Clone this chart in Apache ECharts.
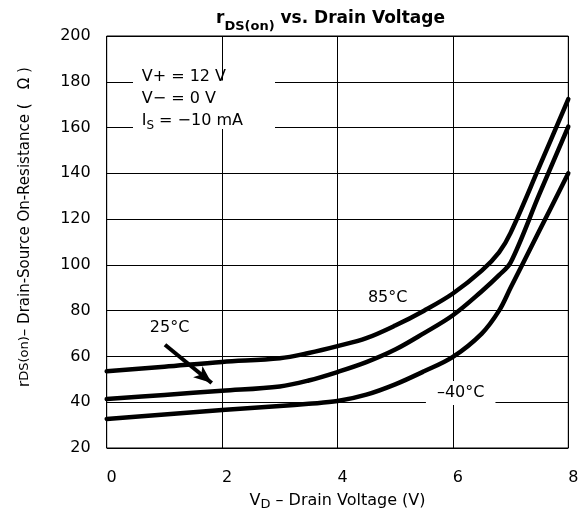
<!DOCTYPE html>
<html><head><meta charset="utf-8">
<script src="https://cdn.jsdelivr.net/npm/echarts@6/dist/echarts.min.js"></script>
<style>html,body{margin:0;padding:0;background:#fff}#c{width:588px;height:516px}</style>
</head><body><div id="c"></div>
<script>
// ---- data ----
const xTicks = [0, 2, 4, 6, 8];
const yTicks = [20, 40, 60, 80, 100, 120, 140, 160, 180, 200];

const vd85 = [0, 1, 2, 3, 3.5, 4, 4.5, 5, 5.5, 6, 6.5, 6.8, 7, 7.5, 8];
const r85  = [53.5, 55.5, 57.6, 59.2, 61.5, 64.5, 68, 73.5, 80, 87.5, 97.5, 105.5, 114, 143, 172.4];

const vd25 = [0, 1, 2, 3, 3.5, 4, 4.5, 5, 5.5, 6, 6.5, 6.8, 7, 7.5, 8];
const r25  = [41.4, 43.2, 45.0, 46.9, 49.5, 53.2, 57.5, 63, 70.2, 78, 88.5, 95.5, 101, 131, 160.4];

const vdM40 = [0, 1, 2, 3, 3.5, 4, 4.5, 5, 5.5, 6, 6.5, 6.8, 7, 7.5, 8];
const rM40  = [32.7, 34.6, 36.6, 38.3, 39.3, 40.5, 43.3, 47.8, 53.5, 59.8, 70, 80, 90, 115, 140];

const labelNames = ['85°C', '25°C', '–40°C'];
const labelPos = [[4.87, 85.7], [1.09, 72.4], [6.135, 44.0]];
const arrowFrom = [1.01, 65.1];
const arrowTo = [1.82, 48.4];

const condLines = ['V+ = 12 V', 'V− = 0 V'];

// ---- chart ----
const FF = 'DejaVu Sans';
const zip = (xs, ys) => xs.map((x, i) => [x, ys[i]]);
const chart = echarts.init(document.getElementById('c'), null, {renderer: 'canvas'});

const lineSeries = (name, xs, ys) => ({
  name, type: 'line', data: zip(xs, ys), smooth: 0.35,
  showSymbol: false, symbol: 'none',
  lineStyle: {color: '#000', width: 4.5, cap: 'round', join: 'round'},
  silent: true, z: 5
});

const s25 = lineSeries('25°C', vd25, r25);
s25.markLine = {
  silent: true, animation: false,
  symbol: ['none', 'arrow'], symbolSize: [11, 18],
  label: {show: false},
  lineStyle: {color: '#000', width: 4, type: 'solid'},
  data: [[{coord: arrowFrom}, {coord: arrowTo}]]
};

const option = {
  animation: false,
  backgroundColor: '#fff',
  textStyle: {fontFamily: FF},
  title: {
    text: '{r|r}{s|DS(on)}{t| vs. Drain Voltage}',
    left: 216, top: 5, padding: 0,
    textStyle: {
      rich: {
        r: {fontFamily: FF, fontWeight: 'bold', fontSize: 17, color: '#000', lineHeight: 28, verticalAlign: 'middle'},
        s: {fontFamily: FF, fontWeight: 'bold', fontSize: 13, color: '#000', lineHeight: 13, verticalAlign: 'bottom'},
        t: {fontFamily: FF, fontWeight: 'bold', fontSize: 17, color: '#000', lineHeight: 28, verticalAlign: 'middle'}
      }
    }
  },
  grid: {left: 106.7, right: 19.7, top: 36, bottom: 67.7, show: true, borderColor: '#000', borderWidth: 1},
  xAxis: {
    type: 'value', min: xTicks[0], max: xTicks[xTicks.length - 1], interval: 2,
    axisLine: {show: false}, axisTick: {show: false},
    splitLine: {show: true, lineStyle: {color: '#000', width: 1}},
    axisLabel: {fontFamily: FF, fontSize: 16, color: '#000', margin: 22, padding: [0, 0, 0, 10]},
    name: '{m|V}{s|D}{m| – Drain Voltage (V)}',
    nameLocation: 'middle', nameGap: 43,
    nameTextStyle: {
      rich: {
        m: {fontFamily: FF, fontSize: 16, color: '#000', lineHeight: 20, verticalAlign: 'middle'},
        s: {fontFamily: FF, fontSize: 13, color: '#000', lineHeight: 13, verticalAlign: 'bottom'}
      }
    }
  },
  yAxis: {
    type: 'value', min: yTicks[0], max: yTicks[yTicks.length - 1], interval: 20,
    axisLine: {show: false}, axisTick: {show: false},
    splitLine: {show: true, lineStyle: {color: '#000', width: 1}},
    axisLabel: {fontFamily: FF, fontSize: 16, color: '#000', margin: 16}
  },
  graphic: [
    {type: 'text', x: 25, y: 227, rotation: Math.PI / 2, z: 100,
      style: {
        text: '{m|r}{s|DS(on)}{m|– Drain-Source On-Resistance (   Ω )}',
        align: 'center', verticalAlign: 'middle', fill: '#000',
        fontFamily: FF, fontSize: 15,
        rich: {
          m: {fontFamily: FF, fontSize: 15, fill: '#000', color: '#000'},
          s: {fontFamily: FF, fontSize: 13, fill: '#000', color: '#000'}
        }
      }
    },
    {type: 'rect', z: 90, shape: {x: 133, y: 80.5, width: 142, height: 48.5}, style: {fill: '#fff'}},
    {type: 'text', x: 141.7, y: 77, z: 100,
      style: {text: condLines[0], fontFamily: FF, fontSize: 16, fill: '#000', verticalAlign: 'middle', align: 'left'}},
    {type: 'text', x: 141.7, y: 98.5, z: 100,
      style: {text: condLines[1], fontFamily: FF, fontSize: 16, fill: '#000', verticalAlign: 'middle', align: 'left'}},
    {type: 'text', x: 141.7, y: 120.5, z: 100,
      style: {
        text: '{m|I}{s|S}{m| = −10 mA}', fontFamily: FF, fontSize: 16, fill: '#000',
        verticalAlign: 'middle', align: 'left',
        rich: {
          m: {fontFamily: FF, fontSize: 16, fill: '#000', color: '#000', lineHeight: 22, verticalAlign: 'middle'},
          s: {fontFamily: FF, fontSize: 12, fill: '#000', color: '#000', lineHeight: 12, verticalAlign: 'bottom'}
        }
      }
    }
  ],
  series: [
    lineSeries('85°C', vd85, r85),
    s25,
    lineSeries('−40°C', vdM40, rM40),
    {
      type: 'scatter', silent: true, symbolSize: 0, z: 8,
      itemStyle: {opacity: 1, color: '#000'},
      data: labelNames.map((n, i) => {
        const d = {name: n, value: labelPos[i]};
        if (i === 2) d.label = {backgroundColor: '#fff', padding: [2, 11, 2, 11], lineHeight: 20};
        return d;
      }),
      label: {show: true, position: 'inside', formatter: p => p.name, fontFamily: FF, fontSize: 16, color: '#000', opacity: 1}
    }
  ]
};
chart.setOption(option);
</script>
</body></html>
